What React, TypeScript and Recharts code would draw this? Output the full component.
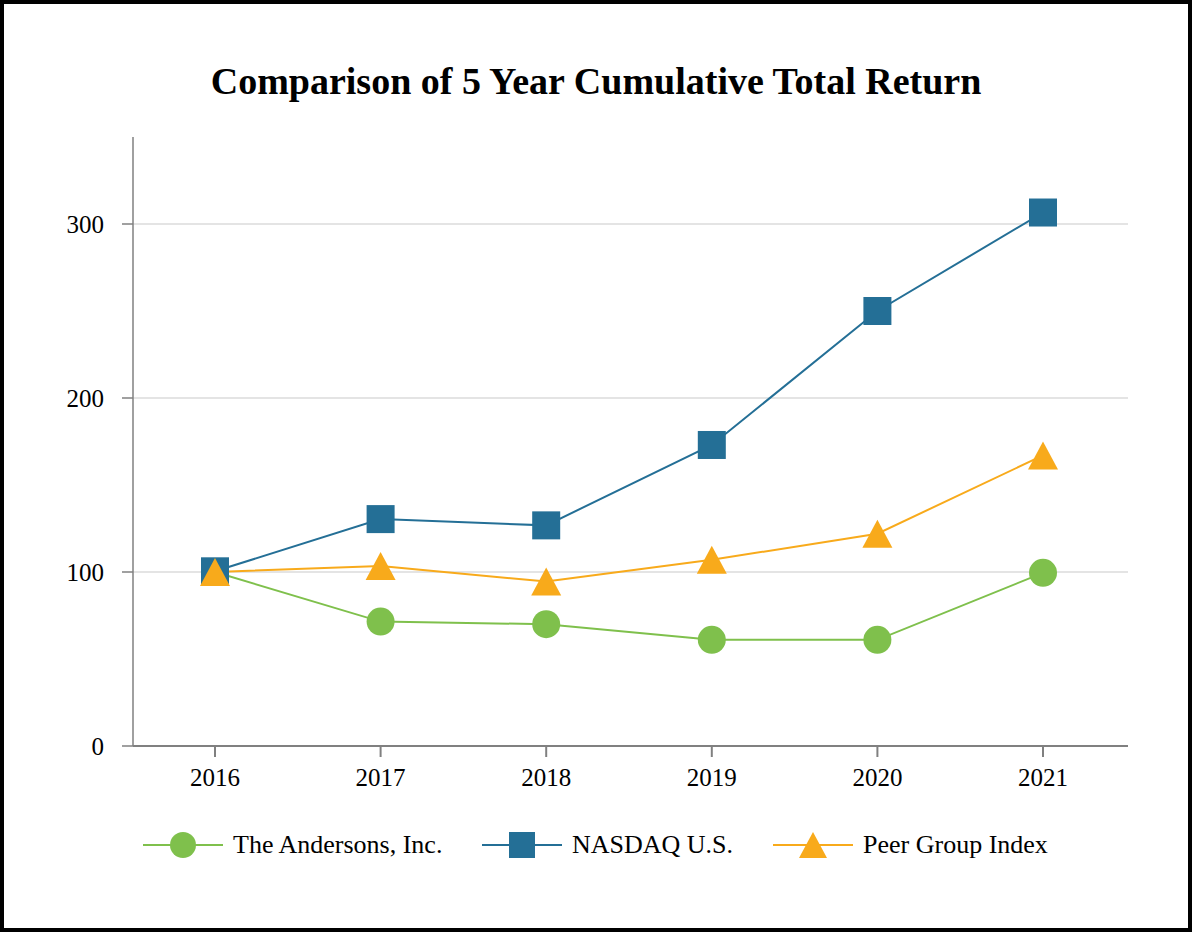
import { LineChart, Line, XAxis, YAxis, CartesianGrid } from "recharts";

const years = ["2016", "2017", "2018", "2019", "2020", "2021"];
const andersons = [100, 71.5, 70, 61, 61, 99.5];
const nasdaq = [100.4, 130.4, 126.8, 173, 250, 306.6];
const peerGroup = [100, 103.5, 94.5, 107, 122, 167];
const yTicks = [0, 100, 200, 300];
const gridValues = [100, 200, 300];

const GREEN = "#7fc04c";
const BLUE = "#246f96";
const ORANGE = "#f8aa1b";
const FONT = "'Liberation Serif', 'Times New Roman', serif";

const data = years.map((year, i) => ({
  year,
  andersons: andersons[i],
  nasdaq: nasdaq[i],
  peer: peerGroup[i],
}));

const CircleDot = (props: any) => {
  const { cx, cy } = props;
  if (cx == null || cy == null) return null;
  return <circle cx={cx} cy={cy} r={14} fill={GREEN} />;
};

const SquareDot = (props: any) => {
  const { cx, cy } = props;
  if (cx == null || cy == null) return null;
  return <rect x={cx - 14} y={cy - 14} width={28} height={28} fill={BLUE} />;
};

const TriangleDot = (props: any) => {
  const { cx, cy } = props;
  if (cx == null || cy == null) return null;
  return (
    <polygon
      points={`${cx},${cy - 14} ${cx + 15},${cy + 14} ${cx - 15},${cy + 14}`}
      fill={ORANGE}
    />
  );
};

const legendItems = [
  { name: "The Andersons, Inc.", color: GREEN, shape: "circle" },
  { name: "NASDAQ U.S.", color: BLUE, shape: "square" },
  { name: "Peer Group Index", color: ORANGE, shape: "triangle" },
];
const legendLeft = [139, 478, 769];

function LegendIcon({ color, shape }: { color: string; shape: string }) {
  return (
    <svg width={80} height={30} style={{ display: "block" }}>
      <line x1={0} y1={15} x2={80} y2={15} stroke={color} strokeWidth={2} />
      {shape === "circle" && <circle cx={40} cy={15} r={13} fill={color} />}
      {shape === "square" && <rect x={27} y={2} width={26} height={26} fill={color} />}
      {shape === "triangle" && <polygon points="40,2 54,28 26,28" fill={color} />}
    </svg>
  );
}

export default function App() {
  return (
    <div
      style={{
        position: "absolute",
        left: 0,
        top: 0,
        width: 1192,
        height: 932,
        boxSizing: "border-box",
        border: "4px solid #000",
        background: "#fff",
        fontFamily: FONT,
      }}
    >
      <div
        style={{
          position: "absolute",
          left: 0,
          right: 0,
          top: 55,
          textAlign: "center",
          fontWeight: "bold",
          fontSize: 38,
          color: "#000",
        }}
      >
        Comparison of 5 Year Cumulative Total Return
      </div>
      <div style={{ position: "absolute", left: 0, top: 0 }}>
        <LineChart
          width={1184}
          height={924}
          data={data}
          margin={{ top: 133, right: 60, left: 69, bottom: 152 }}
        >
          <CartesianGrid
            vertical={false}
            horizontalValues={gridValues}
            stroke="#e4e4e4"
            strokeWidth={2}
          />
          <XAxis
            dataKey="year"
            padding={{ left: 82, right: 85 }}
            height={30}
            tickSize={11}
            tickMargin={11}
            stroke="#808080"
            strokeWidth={2}
            tick={{ fill: "#000", fontSize: 25, fontFamily: FONT }}
          />
          <YAxis
            domain={[0, 350]}
            ticks={yTicks}
            width={60}
            tickSize={11}
            tickMargin={18}
            stroke="#808080"
            strokeWidth={1.5}
            tick={{ fill: "#000", fontSize: 25, fontFamily: FONT }}
          />
          <Line
            dataKey="andersons"
            stroke={GREEN}
            strokeWidth={2}
            dot={<CircleDot />}
            isAnimationActive={false}
          />
          <Line
            dataKey="nasdaq"
            stroke={BLUE}
            strokeWidth={2}
            dot={<SquareDot />}
            isAnimationActive={false}
          />
          <Line
            dataKey="peer"
            stroke={ORANGE}
            strokeWidth={2}
            dot={<TriangleDot />}
            isAnimationActive={false}
          />
        </LineChart>
      </div>
      {legendItems.map((item, i) => (
        <div
          key={item.name}
          style={{
            position: "absolute",
            top: 826,
            left: legendLeft[i],
            display: "flex",
            alignItems: "center",
            fontSize: 26,
            color: "#000",
            whiteSpace: "nowrap",
          }}
        >
          <LegendIcon color={item.color} shape={item.shape} />
          <span style={{ marginLeft: 10 }}>{item.name}</span>
        </div>
      ))}
    </div>
  );
}
